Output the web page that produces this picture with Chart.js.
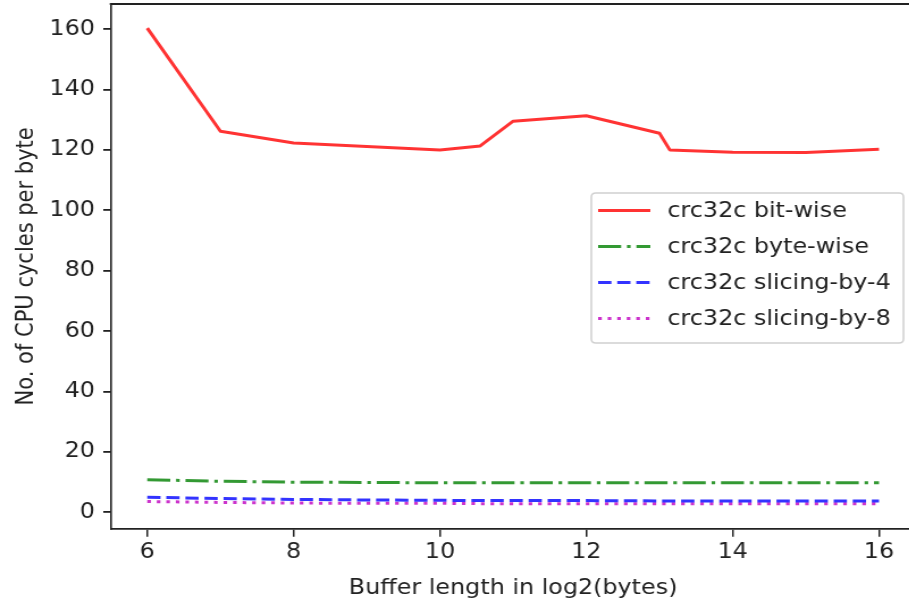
<!DOCTYPE html>
<html>
<head>
<meta charset="utf-8">
<script src="https://cdn.jsdelivr.net/npm/chart.js@4.4.1/dist/chart.umd.min.js"></script>
<style>
  html, body { margin: 0; padding: 0; background: #fff; overflow: hidden; width: 909px; height: 606px; }
  #wrap { position: absolute; left: 0; top: 0; width: 820px; height: 606px;
          transform: scaleX(1.135); transform-origin: 0 0; }
</style>
</head>
<body>
<div id="wrap"><canvas id="c"></canvas></div>
<script>
// Buffer sizes as log2(bytes): 64 B ... 64 KiB, plus 1500 B and 9000 B frames
const bufferLog2 = [6, 7, 8, 9, 10, 10.55, 11, 12, 13, 13.14, 14, 15, 16];

// CPU cycles per byte for each CRC32C implementation
const bitWise     = [160.3, 126.2, 122.3, 121.1, 120.0, 121.3, 129.5, 131.3, 125.5, 120.0, 119.2, 119.1, 120.2];
const byteWise    = [10.8, 10.3, 10.0, 9.9, 9.8, 9.8, 9.8, 9.8, 9.8, 9.8, 9.8, 9.8, 9.8];
const slicingBy4  = [5.0, 4.6, 4.3, 4.1, 4.0, 3.9, 3.9, 3.9, 3.8, 3.8, 3.8, 3.8, 3.8];
const slicingBy8  = [3.6, 3.3, 3.1, 3.0, 3.0, 2.9, 2.9, 2.9, 2.9, 2.9, 2.9, 2.9, 2.9];

const seriesLabels = ['crc32c bit-wise', 'crc32c byte-wise', 'crc32c slicing-by-4', 'crc32c slicing-by-8'];

const xTicks = [6, 8, 10, 12, 14, 16];
const yTicks = [0, 20, 40, 60, 80, 100, 120, 140, 160];

const FONT = { family: 'DejaVu Sans', size: 21 };
const INK = '#222';

function points(ys) {
  return bufferLog2.map((x, i) => ({ x: x, y: ys[i] }));
}

function line(label, ys, color, dash) {
  return {
    label: label,
    data: points(ys),
    borderColor: color,
    backgroundColor: color,
    borderWidth: 3,
    borderDash: dash,
    borderCapStyle: 'butt',
    borderJoinStyle: 'round',
    pointRadius: 0,
    fill: false,
    tension: 0
  };
}

// Top/right spines and the boxed legend inside the plot
const frameAndLegend = {
  id: 'frameAndLegend',
  afterDraw(chart) {
    const { ctx, chartArea } = chart;
    ctx.save();
    ctx.strokeStyle = INK;
    ctx.lineWidth = 1.8;
    ctx.beginPath();
    ctx.moveTo(chartArea.left - 0.8, chartArea.top);
    ctx.lineTo(chartArea.right, chartArea.top);
    ctx.stroke();
    ctx.lineWidth = 1.6;
    ctx.beginPath();
    ctx.moveTo(chartArea.right, chartArea.top);
    ctx.lineTo(chartArea.right, chartArea.bottom);
    ctx.stroke();

    const bx = 521, by = 193, bw = 275, bh = 150, r = 4;
    ctx.beginPath();
    ctx.moveTo(bx + r, by);
    ctx.lineTo(bx + bw - r, by);
    ctx.quadraticCurveTo(bx + bw, by, bx + bw, by + r);
    ctx.lineTo(bx + bw, by + bh - r);
    ctx.quadraticCurveTo(bx + bw, by + bh, bx + bw - r, by + bh);
    ctx.lineTo(bx + r, by + bh);
    ctx.quadraticCurveTo(bx, by + bh, bx, by + bh - r);
    ctx.lineTo(bx, by + r);
    ctx.quadraticCurveTo(bx, by, bx + r, by);
    ctx.closePath();
    ctx.fillStyle = 'rgba(255,255,255,0.8)';
    ctx.fill();
    ctx.strokeStyle = '#d0d0d0';
    ctx.lineWidth = 1.5;
    ctx.stroke();

    ctx.font = `${FONT.size}px '${FONT.family}'`;
    ctx.textBaseline = 'middle';
    ctx.textAlign = 'left';
    chart.data.datasets.forEach((ds, i) => {
      const y = 210.5 + i * 36;
      ctx.strokeStyle = ds.borderColor;
      ctx.lineWidth = ds.borderWidth;
      ctx.lineCap = 'butt';
      ctx.setLineDash(ds.borderDash || []);
      ctx.beginPath();
      ctx.moveTo(527, y);
      ctx.lineTo(573, y);
      ctx.stroke();
      ctx.setLineDash([]);
      ctx.fillStyle = INK;
      ctx.fillText(ds.label, 588, y + 1);
    });
    ctx.restore();
  }
};

new Chart(document.getElementById('c'), {
  type: 'line',
  data: {
    datasets: [
      line(seriesLabels[0], bitWise,    'rgba(255,0,0,0.8)',   []),
      line(seriesLabels[1], byteWise,   'rgba(0,128,0,0.8)',   [20.3, 5.1, 3.2, 5.1]),
      line(seriesLabels[2], slicingBy4, 'rgba(0,0,255,0.8)',   [11.7, 5.1]),
      line(seriesLabels[3], slicingBy8, 'rgba(191,0,191,0.8)', [3.2, 5.2])
    ]
  },
  options: {
    responsive: true,
    maintainAspectRatio: false,
    animation: false,
    events: [],
    layout: { padding: { left: 0, top: 4, right: 13.3, bottom: 0 } },
    plugins: { legend: { display: false }, tooltip: { enabled: false } },
    scales: {
      x: {
        type: 'linear',
        min: 5.5,
        max: 16.5,
        afterBuildTicks: (s) => { s.ticks = xTicks.map(v => ({ value: v })); },
        afterFit: (s) => { s.height = 77.3; s.paddingLeft = 0; s.paddingRight = 0; },
        ticks: { font: FONT, color: INK, padding: 3.7, maxRotation: 0, autoSkip: false },
        grid: { drawOnChartArea: false, drawTicks: true, tickLength: 8, color: INK, lineWidth: 1.5 },
        border: { display: true, color: INK, width: 1.8 },
        title: { display: true, text: 'Buffer length in log2(bytes)', font: FONT, color: INK,
                 padding: { top: 0, bottom: 4.4 } }
      },
      y: {
        type: 'linear',
        min: -5.4,
        max: 168.3,
        afterBuildTicks: (s) => { s.ticks = yTicks.map(v => ({ value: v })); },
        afterFit: (s) => { s.width = 97.5; s.paddingTop = 0; s.paddingBottom = 0; },
        ticks: { font: FONT, color: INK, padding: 7.3, autoSkip: false },
        grid: { drawOnChartArea: false, drawTicks: true, tickLength: 6.5, color: INK, lineWidth: 1.8 },
        border: { display: true, color: INK, width: 1.6 },
        title: { display: true, text: 'No. of CPU cycles per byte', font: FONT, color: INK,
                 padding: { top: 10.6, bottom: 0 } }
      }
    }
  },
  plugins: [frameAndLegend]
});
</script>
</body>
</html>
